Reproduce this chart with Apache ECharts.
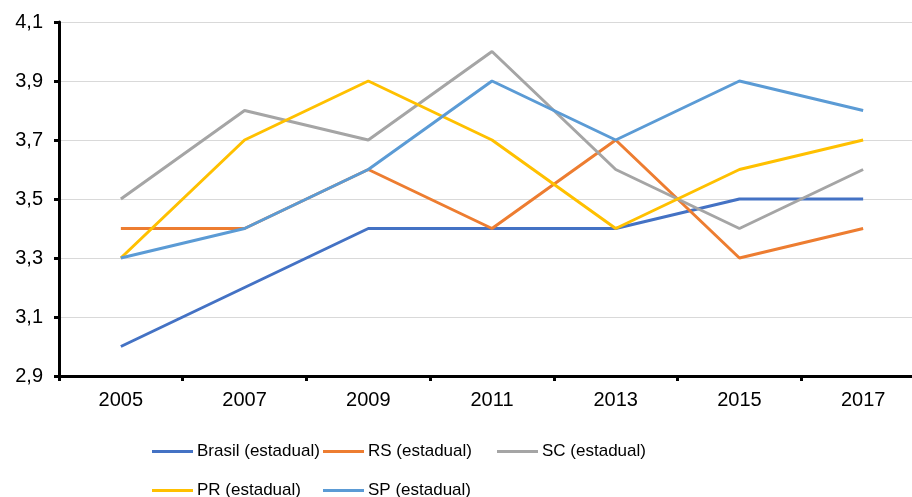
<!DOCTYPE html>
<html lang="pt">
<head>
    <meta charset="UTF-8">
    <title>Indicadores estaduais</title>
    <style>
        html, body { margin: 0; padding: 0; background: #fff; }
        #grafico { width: 912px; height: 497px; }
    </style>
</head>
<body>
<div id="grafico"></div>
<script src="https://cdn.jsdelivr.net/npm/echarts@6/dist/echarts.min.js"></script>
<script>
    // dados
    var anos = ['2005', '2007', '2009', '2011', '2013', '2015', '2017'];
    var brasil = [3.0, 3.2, 3.4, 3.4, 3.4, 3.5, 3.5];
    var rs = [3.4, 3.4, 3.6, 3.4, 3.7, 3.3, 3.4];
    var sc = [3.5, 3.8, 3.7, 4.0, 3.6, 3.4, 3.6];
    var pr = [3.3, 3.7, 3.9, 3.7, 3.4, 3.6, 3.7];
    var sp = [3.3, 3.4, 3.6, 3.9, 3.7, 3.9, 3.8];

    var nomes = ['Brasil (estadual)', 'RS (estadual)', 'SC (estadual)', 'PR (estadual)', 'SP (estadual)'];
    var valores = [brasil, rs, sc, pr, sp];
    var cores = ['#4472C4', '#ED7D31', '#A5A5A5', '#FFC000', '#5B9BD5'];

    // posicao de cada item da legenda (duas linhas)
    var legPos = [[152, 443], [323, 443], [497, 443], [152, 482], [323, 482]];

    var fonte = '"Liberation Sans", Arial, sans-serif';

    var myChart = echarts.init(document.getElementById('grafico'));

    var legendas = [];
    var series = [];
    for (var i = 0; i < nomes.length; i++) {
        legendas.push({
            data: [nomes[i]],
            left: legPos[i][0],
            top: legPos[i][1],
            padding: 0,
            icon: 'rect',
            itemWidth: 41,
            itemHeight: 3,
            textStyle: { fontFamily: fonte, fontSize: 17, color: '#000', padding: [0, 0, 0, -1] }
        });
        series.push({
            name: nomes[i],
            type: 'line',
            data: valores[i],
            symbol: 'none',
            lineStyle: { width: 3, color: cores[i] },
            itemStyle: { color: cores[i] }
        });
    }

    var option = {
        animation: false,
        textStyle: { fontFamily: fonte },
        legend: legendas,
        grid: {
            left: 59,
            right: -13,
            top: 22,
            bottom: 121,
            outerBoundsMode: 'none'
        },
        xAxis: {
            type: 'category',
            data: anos,
            boundaryGap: true,
            axisLine: { lineStyle: { color: '#000', width: 3 } },
            axisTick: { show: true, length: 5, lineStyle: { color: '#000', width: 3 } },
            axisLabel: { color: '#000', fontSize: 20, fontFamily: fonte, margin: 14 },
            splitLine: { show: false }
        },
        yAxis: {
            type: 'value',
            min: 2.9,
            max: 4.1,
            interval: 0.2,
            axisLine: { show: true, lineStyle: { color: '#000', width: 3 } },
            axisTick: { show: true, length: 5, lineStyle: { color: '#000', width: 3 } },
            axisLabel: {
                color: '#000',
                fontSize: 20,
                fontFamily: fonte,
                margin: 16,
                formatter: function (v) { return v.toFixed(1).replace('.', ','); }
            },
            splitLine: { lineStyle: { color: '#D9D9D9', width: 1 } }
        },
        series: series
    };
    myChart.setOption(option);
</script>
</body>
</html>
